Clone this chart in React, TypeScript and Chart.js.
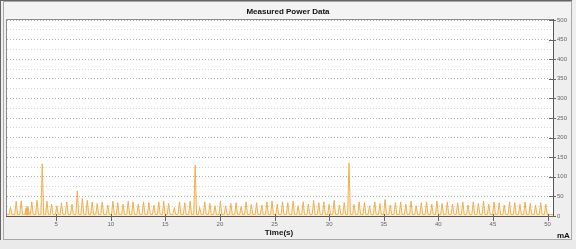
import React, { useEffect, useRef } from "react";
import { Chart, registerables } from "chart.js";

Chart.register(...registerables);

// ---- data ----
const spikeTimes = [
  0.82, 1.34, 1.8, 2.25, 2.34, 2.43, 2.77, 3.25, 3.73, 4.16, 4.58, 5.06, 5.49, 5.97, 6.45, 6.94, 7.4, 7.85, 8.3, 8.76,
  9.22, 9.73, 10.2, 10.64, 11.13, 11.6, 12.04, 12.52, 13.0, 13.49, 13.95, 14.4, 14.85, 15.3, 15.82, 16.3, 16.78,
  17.27, 17.73, 18.15, 18.61, 19.08, 19.55, 20.04, 20.52, 21.0, 21.48, 21.94, 22.39, 22.88, 23.36, 23.84, 24.3,
  24.77, 25.25, 25.73, 26.21, 26.7, 27.16, 27.62, 28.1, 28.58, 29.05, 29.52, 30.0, 30.46, 30.94, 31.38, 31.82,
  32.28, 32.75, 33.23, 33.7, 34.18, 34.65, 35.12, 35.6, 36.07, 36.55, 37.02, 37.5, 37.97, 38.44, 38.92, 39.4,
  39.87, 40.34, 40.82, 41.3, 41.77, 42.24, 42.72, 43.2, 43.67, 44.14, 44.62, 45.1, 45.57, 46.04, 46.52, 47.0,
  47.47, 47.94, 48.42, 48.9, 49.37, 49.84,
];
const spikeCurrents = [
  22, 38, 38, 20, 25, 22, 36, 40, 133, 38, 30, 26, 34, 36, 30, 64, 45, 40, 36, 32,
  36, 28, 38, 34, 30, 38, 36, 30, 36, 34, 28, 36, 38, 32, 22, 36, 34,
  38, 130, 22, 36, 32, 26, 38, 26, 32, 34, 24, 36, 30, 34, 28, 36,
  38, 30, 36, 34, 38, 26, 36, 30, 40, 34, 36, 30, 40, 28, 34, 135,
  30, 36, 34, 26, 36, 32, 42, 28, 34, 36, 30, 38, 26, 34, 36, 30,
  38, 32, 36, 30, 34, 36, 28, 36, 32, 38, 30, 36, 34, 28, 36, 34,
  30, 36, 32, 28, 34, 30,
];
const baseCurrent = 4;
const xTickValues = [5, 10, 15, 20, 25, 30, 35, 40, 45, 50];
const yGridValues = [0, 25, 50, 75, 100, 125, 150, 175, 200, 225, 250, 275, 300, 325, 350, 375, 400, 425, 450, 475, 500];
const yLabelValues = [0, 50, 100, 150, 200, 250, 300, 350, 400, 450, 500];

const TITLE = "Measured Power Data";
const X_TITLE = "Time(s)";
const Y_TITLE = "mA";

const W = 576;
const H = 249;
const HALF = 0.13;

function buildPoints() {
  const pts: { x: number; y: number }[] = [{ x: 0.5, y: baseCurrent }];
  spikeTimes.forEach((t, i) => {
    pts.push({ x: t - HALF, y: baseCurrent });
    pts.push({ x: t, y: spikeCurrents[i] });
    pts.push({ x: t + HALF, y: baseCurrent });
  });
  pts.push({ x: 50.5, y: baseCurrent });
  return pts;
}

const framePlugin = {
  id: "frame",
  beforeDraw(chart: any) {
    const { ctx, chartArea: a } = chart;
    ctx.save();
    ctx.fillStyle = "#efefef";
    ctx.fillRect(0, 0, W, H);
    ctx.fillStyle = "#f3f3f3";
    ctx.fillRect(3, 2, 568, 17);
    ctx.fillStyle = "#eaeaea";
    ctx.fillRect(0, 240, W, 9);
    ctx.fillStyle = "#666";
    ctx.fillRect(0, 0, 572, 1);
    ctx.fillRect(0, 0, 1, 240);
    ctx.strokeStyle = "#a8a8a8";
    ctx.lineWidth = 1;
    ctx.strokeRect(3.5, 1.5, 568, 238);
    ctx.fillStyle = "#ffffff";
    ctx.fillRect(a.left, a.top, a.right - a.left, a.bottom - a.top);
    ctx.restore();
  },
  afterDraw(chart: any) {
    const { ctx, chartArea: a, scales } = chart;
    ctx.save();
    ctx.strokeStyle = "#8c8c8c";
    ctx.lineWidth = 1;
    ctx.beginPath();
    ctx.moveTo(a.left - 0.5, a.bottom);
    ctx.lineTo(a.left - 0.5, a.top - 0.5);
    ctx.lineTo(a.right, a.top - 0.5);
    ctx.stroke();
    ctx.strokeStyle = "#555";
    ctx.beginPath();
    ctx.moveTo(a.left - 1, a.bottom + 0.5);
    ctx.lineTo(a.right + 0.5, a.bottom + 0.5);
    ctx.moveTo(a.right + 0.5, a.top - 1);
    ctx.lineTo(a.right + 0.5, a.bottom + 1);
    ctx.stroke();
    const y = scales.y;
    ctx.strokeStyle = "#666";
    ctx.beginPath();
    yLabelValues.forEach((v) => {
      const py = Math.round(y.getPixelForValue(v)) + 0.5;
      ctx.moveTo(a.right - 4, py);
      ctx.lineTo(a.right + 3, py);
    });
    const x = scales.x;
    xTickValues.forEach((v) => {
      const px = Math.round(x.getPixelForValue(v)) + 0.5;
      ctx.moveTo(px, a.bottom - 2);
      ctx.lineTo(px, a.bottom + 5);
    });
    ctx.stroke();
    ctx.fillStyle = "#111";
    ctx.textAlign = "center";
    ctx.textBaseline = "alphabetic";
    ctx.font = "bold 8px 'Liberation Sans', Arial, sans-serif";
    ctx.fillText(TITLE, 288, 14);
    ctx.fillText(X_TITLE, 279, 235);
    ctx.textAlign = "left";
    ctx.fillText(Y_TITLE, 557, 238);
    ctx.restore();
  },
};

export default function App() {
  const ref = useRef<HTMLCanvasElement | null>(null);

  useEffect(() => {
    if (!ref.current) return;
    const chart = new Chart(ref.current, {
      type: "line",
      data: {
        datasets: [
          {
            data: buildPoints(),
            borderColor: "rgba(240,168,64,0.9)",
            backgroundColor: "rgba(252,214,150,0.45)",
            borderWidth: 1,
            pointRadius: 0,
            fill: "origin",
            tension: 0,
          },
        ],
      },
      options: {
        animation: false,
        responsive: false,
        devicePixelRatio: 1,
        parsing: false,
        normalized: true,
        layout: { padding: { left: 7, top: 20, right: 0, bottom: 0 } },
        plugins: { legend: { display: false }, tooltip: { enabled: false }, title: { display: false } },
        scales: {
          x: {
            type: "linear",
            position: "bottom",
            min: 0.5,
            max: 50.5,
            afterFit: (s: any) => {
              s.height = H - 216;
            },
            afterBuildTicks: (s: any) => {
              s.ticks = xTickValues.map((v) => ({ value: v }));
            },
            border: { display: false },
            grid: { drawOnChartArea: false, drawTicks: true, tickLength: 4, tickColor: "rgba(0,0,0,0)" },
            ticks: {
              autoSkip: false,
              maxRotation: 0,
              padding: 1,
              color: "#666",
              font: { size: 6, family: "'Liberation Sans', Arial, sans-serif" },
            },
          },
          y: {
            type: "linear",
            position: "right",
            min: 0,
            max: 500,
            afterFit: (s: any) => {
              s.width = W - 553;
            },
            afterBuildTicks: (s: any) => {
              s.ticks = yGridValues.map((v) => ({ value: v }));
            },
            border: { display: false, dash: [1, 2] },
            grid: {
              drawOnChartArea: true,
              drawTicks: true,
              tickLength: 3,
              tickColor: "rgba(0,0,0,0)",
              tickBorderDash: [],
              color: (c: any) => (c.tick && c.tick.value % 50 === 0 ? "#b0b0b0" : "#d4d4d4"),
              lineWidth: 1,
            } as any,
            ticks: {
              autoSkip: false,
              padding: 1,
              color: "#666",
              font: { size: 6, family: "'Liberation Sans', Arial, sans-serif" },
              callback: (v: any) => (yLabelValues.includes(Number(v)) ? String(v) : ""),
            },
          },
        },
      },
      plugins: [framePlugin],
    });
    return () => chart.destroy();
  }, []);

  return (
    <div style={{ position: "absolute", left: 0, top: 0, width: W, height: H }}>
      <canvas ref={ref} width={W} height={H} style={{ display: "block", width: W, height: H }} />
    </div>
  );
}
